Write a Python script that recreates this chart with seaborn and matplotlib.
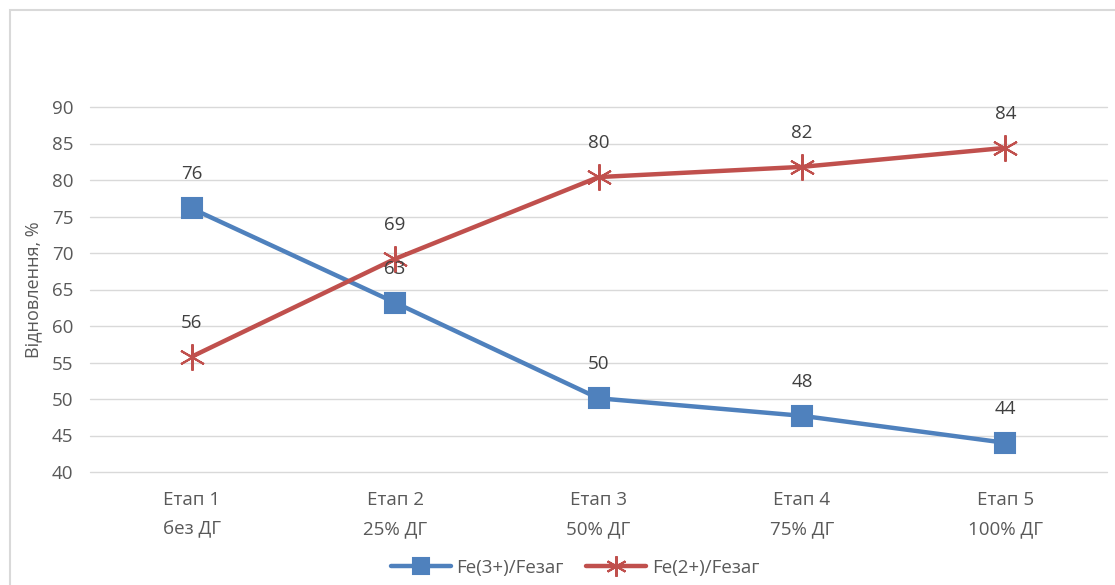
import matplotlib
matplotlib.use("Agg")
import matplotlib.pyplot as plt
import matplotlib.patches as mpatches
import pandas as pd
import seaborn as sns

# chart data
stages = ["Етап 1\nбез ДГ", "Етап 2\n25% ДГ", "Етап 3\n50% ДГ", "Етап 4\n75% ДГ", "Етап 5\n100% ДГ"]
fe3 = [76.1, 63.2, 50.1, 47.7, 44.0]
fe2 = [55.8, 69.2, 80.4, 81.8, 84.4]
fe3_labels = ["76", "63", "50", "48", "44"]
fe2_labels = ["56", "69", "80", "82", "84"]
series_names = ["Fe(3+)/Fезаг", "Fe(2+)/Fезаг"]
yticks = [40, 45, 50, 55, 60, 65, 70, 75, 80, 85, 90]

df = pd.DataFrame({
    "stage": list(range(len(stages))) * 2,
    "value": fe3 + fe2,
    "series": [series_names[0]] * len(fe3) + [series_names[1]] * len(fe2),
})

sns.set_style("white")
plt.rcParams["font.family"] = ["Open Sans", "DejaVu Sans"]

fig = plt.figure(figsize=(11.15, 5.85), dpi=100)
ax = fig.add_axes([90 / 1115, 1 - 472 / 585, (1107 - 90) / 1115, (472 - 107) / 585])

# outer chart frame
fig.patches.append(mpatches.Rectangle((10 / 1115, -0.1), 1.2, 1 - 10 / 585 + 0.1,
                                      transform=fig.transFigure, fill=False,
                                      edgecolor="#D9D9D9", linewidth=1.5, zorder=0))

colors = {series_names[0]: "#4F81BD", series_names[1]: "#C0504D"}
markers = {series_names[0]: "s", series_names[1]: (6, 2, 0)}
msizes = {series_names[0]: 14, series_names[1]: 19}
for name in series_names:
    sub = df[df["series"] == name]
    c = colors[name]
    sns.lineplot(data=sub, x="stage", y="value", color=c, marker=markers[name],
                 linewidth=3.2, markersize=msizes[name], markeredgewidth=1.5,
                 markerfacecolor=c, markeredgecolor=c, ax=ax)

for vals, labs in [(fe3, fe3_labels), (fe2, fe2_labels)]:
    for i, (v, lab) in enumerate(zip(vals, labs)):
        ax.annotate(lab, (i, v), xytext=(0, 24.5), textcoords="offset points",
                    ha="center", va="center", fontsize=13.5, color="#404040")

ax.set_xlim(-0.5, len(stages) - 0.5)
ax.set_ylim(40, 90)
ax.set_yticks(yticks)
ax.set_xticks(range(len(stages)))
ax.set_xticklabels(stages, linespacing=1.75)
ax.tick_params(axis="both", labelsize=13.5, labelcolor="#595959", length=0)
ax.tick_params(axis="x", pad=14)
ax.tick_params(axis="y", pad=12)
ax.grid(axis="y", color="#D9D9D9", linewidth=1, clip_on=False)
ax.set_axisbelow(True)
for s in ax.spines.values():
    s.set_visible(False)
ax.set_xlabel("")
ax.set_ylabel("Відновлення, %", fontsize=13, color="#595959")
ax.yaxis.set_label_coords(-0.047, 0.5)

handles = [plt.Line2D([], [], color=colors[n], marker=markers[n], markersize=msizes[n] * 0.78,
                      markeredgewidth=1.5, linewidth=3.2, markerfacecolor=colors[n])
           for n in series_names]
fig.legend(handles, series_names, loc="center", bbox_to_anchor=(575 / 1115, 1 - 568 / 585),
           ncol=2, frameon=False, fontsize=13.5, handlelength=3.2, columnspacing=1.2,
           handletextpad=0.3, labelcolor="#595959")

fig.savefig("out.png", dpi=100)
